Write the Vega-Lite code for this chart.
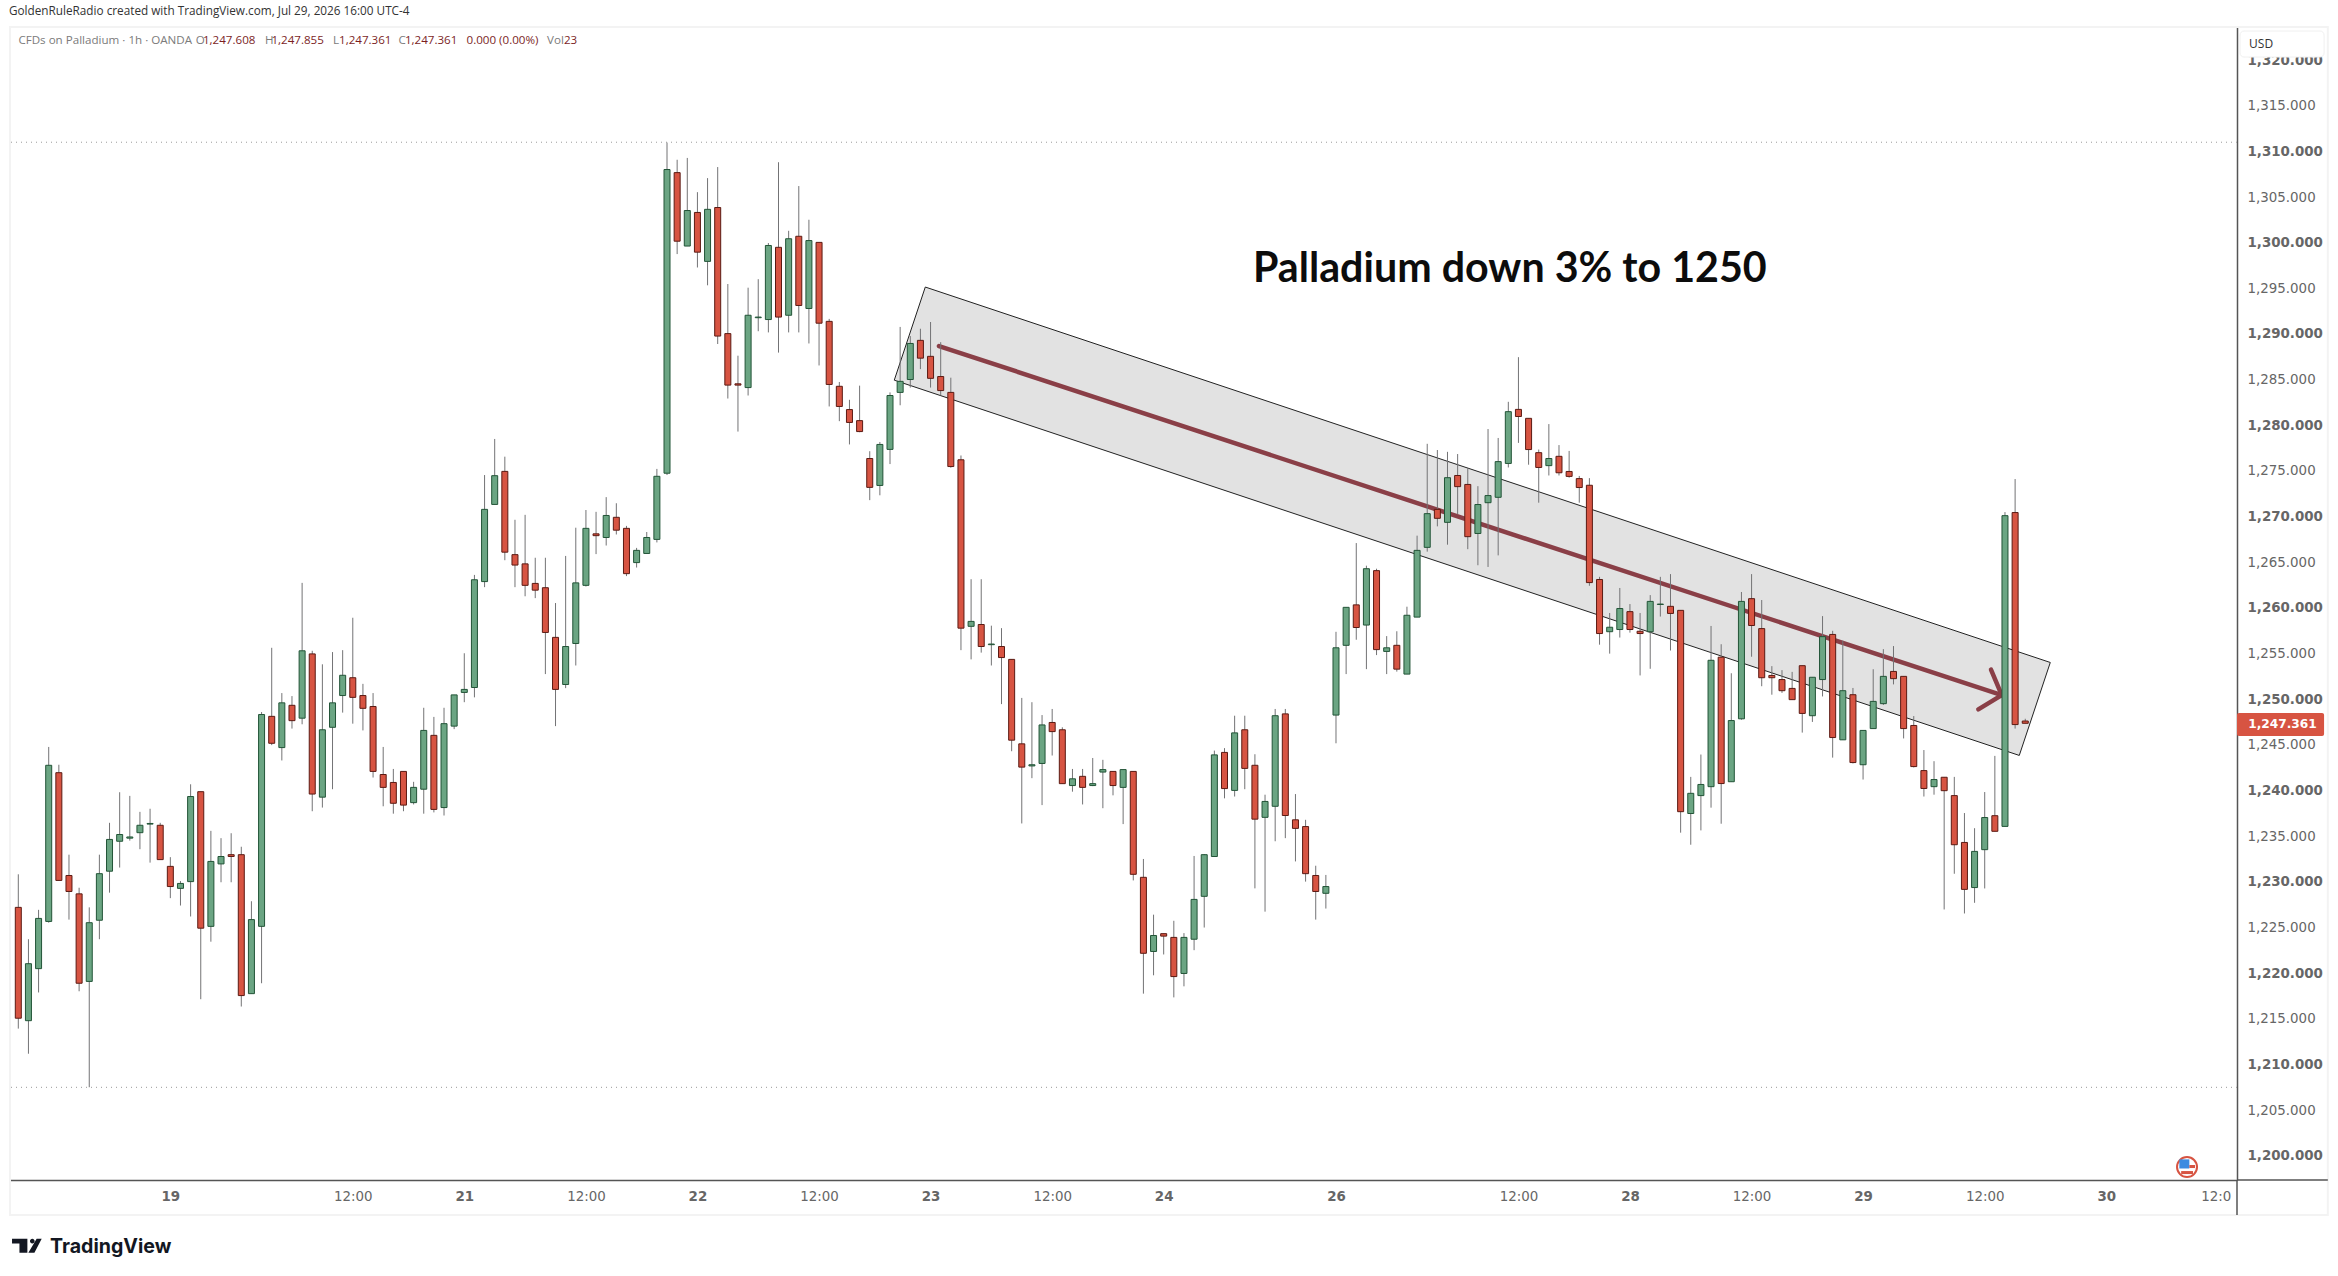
{
"$schema":"https://vega.github.io/schema/vega-lite/v6.json",
"width":2227,"height":1153,
"autosize":"none",
"padding":{"left":10,"top":27,"right":101,"bottom":96},
"background":"#ffffff",
"config":{"view":{"stroke":null},"axis":{"grid":false,"ticks":false,"labelOverlap":false,"labelBound":false,"labelFlush":false}},
"title":{"text":"GoldenRuleRadio created with TradingView.com, Jul 29, 2026 16:00 UTC-4","anchor":"start","frame":"group","font":"Open Sans","fontSize":11.75,"fontWeight":"normal","color":"#333333","dx":-1,"offset":8},
"datasets":{
"candles":[
{"i":1,"open":1227.20,"high":1230.82,"low":1213.92,"close":1215.06},
{"i":2,"open":1214.79,"high":1223.71,"low":1211.17,"close":1221.03},
{"i":3,"open":1220.49,"high":1226.93,"low":1217.88,"close":1225.99},
{"i":4,"open":1225.66,"high":1244.77,"low":1225.52,"close":1242.76},
{"i":5,"open":1241.95,"high":1242.82,"low":1230.15,"close":1230.15},
{"i":6,"open":1230.69,"high":1232.97,"low":1225.86,"close":1228.94},
{"i":7,"open":1228.68,"high":1229.35,"low":1218.01,"close":1218.89},
{"i":8,"open":1219.09,"high":1227.20,"low":1207.50,"close":1225.52},
{"i":9,"open":1225.79,"high":1232.97,"low":1223.71,"close":1230.89},
{"i":10,"open":1231.16,"high":1236.46,"low":1228.81,"close":1234.64},
{"i":11,"open":1234.44,"high":1239.81,"low":1231.56,"close":1235.18},
{"i":12,"open":1234.78,"high":1239.41,"low":1234.51,"close":1234.91},
{"i":13,"open":1235.38,"high":1237.66,"low":1233.57,"close":1236.19},
{"i":14,"open":1236.32,"high":1238.00,"low":1232.10,"close":1236.39},
{"i":15,"open":1236.19,"high":1236.46,"low":1232.43,"close":1232.43},
{"i":16,"open":1231.69,"high":1232.70,"low":1228.21,"close":1229.48},
{"i":17,"open":1229.28,"high":1230.08,"low":1227.40,"close":1229.82},
{"i":18,"open":1230.02,"high":1240.68,"low":1226.20,"close":1239.34},
{"i":19,"open":1239.87,"high":1239.87,"low":1217.14,"close":1224.92},
{"i":20,"open":1225.12,"high":1235.58,"low":1223.44,"close":1232.23},
{"i":21,"open":1231.96,"high":1234.78,"low":1229.95,"close":1232.77},
{"i":22,"open":1232.97,"high":1235.32,"low":1229.95,"close":1232.77},
{"i":23,"open":1232.97,"high":1233.84,"low":1216.34,"close":1217.54},
{"i":24,"open":1217.75,"high":1227.87,"low":1217.75,"close":1225.86},
{"i":25,"open":1225.12,"high":1248.59,"low":1218.89,"close":1248.32},
{"i":26,"open":1248.12,"high":1255.63,"low":1244.97,"close":1245.17},
{"i":27,"open":1244.70,"high":1250.67,"low":1243.29,"close":1249.60},
{"i":28,"open":1249.33,"high":1250.34,"low":1246.78,"close":1247.65},
{"i":29,"open":1247.92,"high":1262.74,"low":1247.25,"close":1255.30},
{"i":30,"open":1254.96,"high":1255.30,"low":1237.73,"close":1239.61},
{"i":31,"open":1239.27,"high":1253.82,"low":1238.13,"close":1246.65},
{"i":32,"open":1246.92,"high":1255.16,"low":1240.14,"close":1249.60},
{"i":33,"open":1250.40,"high":1255.37,"low":1248.53,"close":1252.62},
{"i":34,"open":1252.35,"high":1258.92,"low":1247.32,"close":1250.20},
{"i":35,"open":1250.40,"high":1251.68,"low":1246.58,"close":1249.00},
{"i":36,"open":1249.20,"high":1250.67,"low":1241.42,"close":1242.09},
{"i":37,"open":1241.75,"high":1244.77,"low":1238.27,"close":1240.34},
{"i":38,"open":1240.88,"high":1242.36,"low":1237.46,"close":1238.60},
{"i":39,"open":1242.09,"high":1242.09,"low":1237.73,"close":1238.40},
{"i":40,"open":1238.67,"high":1240.95,"low":1238.47,"close":1240.34},
{"i":41,"open":1240.14,"high":1249.06,"low":1237.46,"close":1246.58},
{"i":42,"open":1246.04,"high":1248.06,"low":1237.60,"close":1237.93},
{"i":43,"open":1238.13,"high":1249.06,"low":1237.26,"close":1247.32},
{"i":44,"open":1247.05,"high":1250.47,"low":1246.72,"close":1250.47},
{"i":45,"open":1250.74,"high":1255.03,"low":1249.67,"close":1251.07},
{"i":46,"open":1251.28,"high":1263.61,"low":1250.20,"close":1263.08},
{"i":47,"open":1262.88,"high":1274.55,"low":1262.27,"close":1270.79},
{"i":48,"open":1271.33,"high":1278.50,"low":1271.33,"close":1274.48},
{"i":49,"open":1274.95,"high":1276.56,"low":1265.22,"close":1266.10},
{"i":50,"open":1265.83,"high":1269.65,"low":1262.27,"close":1264.69},
{"i":51,"open":1264.82,"high":1270.19,"low":1261.27,"close":1262.47},
{"i":52,"open":1262.68,"high":1265.49,"low":1261.07,"close":1261.94},
{"i":53,"open":1262.21,"high":1265.49,"low":1252.75,"close":1257.31},
{"i":54,"open":1256.77,"high":1260.53,"low":1247.05,"close":1251.07},
{"i":55,"open":1251.61,"high":1265.69,"low":1251.21,"close":1255.77},
{"i":56,"open":1256.10,"high":1268.78,"low":1253.69,"close":1262.74},
{"i":57,"open":1262.47,"high":1270.72,"low":1262.34,"close":1268.71},
{"i":58,"open":1268.11,"high":1270.52,"low":1265.89,"close":1267.91},
{"i":59,"open":1267.71,"high":1272.13,"low":1266.83,"close":1270.12},
{"i":60,"open":1269.92,"high":1271.46,"low":1268.04,"close":1268.51},
{"i":61,"open":1268.71,"high":1268.98,"low":1263.48,"close":1263.75},
{"i":62,"open":1264.96,"high":1266.57,"low":1264.42,"close":1266.30},
{"i":63,"open":1265.96,"high":1268.31,"low":1265.96,"close":1267.71},
{"i":64,"open":1267.50,"high":1275.22,"low":1267.17,"close":1274.41},
{"i":65,"open":1274.75,"high":1310.96,"low":1274.55,"close":1308.01},
{"i":66,"open":1307.67,"high":1309.08,"low":1298.75,"close":1300.16},
{"i":67,"open":1299.63,"high":1309.28,"low":1299.63,"close":1303.52},
{"i":68,"open":1303.31,"high":1305.53,"low":1297.28,"close":1298.96},
{"i":69,"open":1297.95,"high":1307.07,"low":1295.33,"close":1303.65},
{"i":70,"open":1303.85,"high":1308.28,"low":1288.90,"close":1289.77},
{"i":71,"open":1290.04,"high":1295.47,"low":1282.93,"close":1284.40},
{"i":72,"open":1284.54,"high":1287.62,"low":1279.31,"close":1284.40},
{"i":73,"open":1284.13,"high":1295.07,"low":1283.26,"close":1292.05},
{"i":74,"open":1291.78,"high":1296.00,"low":1290.30,"close":1291.85},
{"i":75,"open":1291.58,"high":1299.96,"low":1290.17,"close":1299.69},
{"i":76,"open":1299.49,"high":1308.81,"low":1287.96,"close":1291.85},
{"i":77,"open":1292.05,"high":1301.30,"low":1290.17,"close":1300.43},
{"i":78,"open":1300.70,"high":1306.20,"low":1290.17,"close":1293.12},
{"i":79,"open":1292.79,"high":1302.51,"low":1288.96,"close":1300.23},
{"i":80,"open":1300.03,"high":1300.03,"low":1286.55,"close":1291.18},
{"i":81,"open":1291.38,"high":1291.65,"low":1282.06,"close":1284.47},
{"i":82,"open":1284.27,"high":1284.74,"low":1280.45,"close":1282.06},
{"i":83,"open":1281.72,"high":1282.79,"low":1277.90,"close":1280.31},
{"i":84,"open":1280.51,"high":1284.34,"low":1279.24,"close":1279.31},
{"i":85,"open":1276.36,"high":1277.16,"low":1271.80,"close":1273.20},
{"i":86,"open":1273.41,"high":1278.17,"low":1272.33,"close":1277.90},
{"i":87,"open":1277.36,"high":1283.60,"low":1275.75,"close":1283.26},
{"i":88,"open":1283.60,"high":1290.77,"low":1282.19,"close":1284.81},
{"i":89,"open":1285.01,"high":1289.77,"low":1284.13,"close":1288.96},
{"i":90,"open":1289.30,"high":1290.57,"low":1286.15,"close":1287.35},
{"i":91,"open":1287.55,"high":1291.31,"low":1284.13,"close":1285.14},
{"i":92,"open":1285.34,"high":1289.10,"low":1283.26,"close":1283.80},
{"i":93,"open":1283.60,"high":1285.21,"low":1275.35,"close":1275.48},
{"i":94,"open":1276.22,"high":1276.69,"low":1255.37,"close":1257.78},
{"i":95,"open":1257.98,"high":1263.14,"low":1254.36,"close":1258.52},
{"i":96,"open":1258.18,"high":1263.14,"low":1255.10,"close":1255.77},
{"i":97,"open":1255.97,"high":1258.05,"low":1253.69,"close":1256.04},
{"i":98,"open":1255.77,"high":1257.78,"low":1249.46,"close":1254.56},
{"i":99,"open":1254.36,"high":1254.36,"low":1244.30,"close":1245.51},
{"i":100,"open":1245.11,"high":1250.14,"low":1236.39,"close":1242.56},
{"i":101,"open":1242.69,"high":1249.67,"low":1241.35,"close":1242.82},
{"i":102,"open":1242.96,"high":1248.26,"low":1238.40,"close":1247.18},
{"i":103,"open":1247.45,"high":1248.93,"low":1243.83,"close":1246.45},
{"i":104,"open":1246.65,"high":1246.92,"low":1240.75,"close":1240.75},
{"i":105,"open":1240.54,"high":1242.36,"low":1239.87,"close":1241.28},
{"i":106,"open":1241.55,"high":1242.36,"low":1238.47,"close":1240.34},
{"i":107,"open":1240.54,"high":1243.56,"low":1240.48,"close":1240.75},
{"i":108,"open":1242.02,"high":1243.36,"low":1238.06,"close":1242.29},
{"i":109,"open":1242.09,"high":1242.09,"low":1239.47,"close":1240.54},
{"i":110,"open":1240.34,"high":1242.29,"low":1236.32,"close":1242.29},
{"i":111,"open":1242.09,"high":1242.09,"low":1230.15,"close":1230.82},
{"i":112,"open":1230.49,"high":1232.50,"low":1217.75,"close":1222.17},
{"i":113,"open":1222.37,"high":1226.40,"low":1219.76,"close":1224.12},
{"i":114,"open":1224.32,"high":1224.32,"low":1222.04,"close":1224.05},
{"i":115,"open":1223.91,"high":1225.73,"low":1217.34,"close":1219.62},
{"i":116,"open":1219.96,"high":1224.38,"low":1218.55,"close":1223.91},
{"i":117,"open":1223.71,"high":1232.83,"low":1222.51,"close":1228.07},
{"i":118,"open":1228.41,"high":1233.04,"low":1224.99,"close":1232.97},
{"i":119,"open":1232.77,"high":1244.37,"low":1232.77,"close":1243.90},
{"i":120,"open":1244.17,"high":1244.64,"low":1239.14,"close":1240.21},
{"i":121,"open":1240.01,"high":1248.19,"low":1239.34,"close":1246.31},
{"i":122,"open":1246.65,"high":1248.19,"low":1240.14,"close":1242.42},
{"i":123,"open":1242.76,"high":1243.97,"low":1229.28,"close":1236.86},
{"i":124,"open":1237.06,"high":1239.54,"low":1226.73,"close":1238.80},
{"i":125,"open":1238.27,"high":1248.93,"low":1234.44,"close":1248.19},
{"i":126,"open":1248.39,"high":1248.93,"low":1234.78,"close":1237.26},
{"i":127,"open":1236.79,"high":1239.61,"low":1232.23,"close":1235.85},
{"i":128,"open":1236.05,"high":1236.79,"low":1230.02,"close":1230.89},
{"i":129,"open":1230.69,"high":1231.76,"low":1225.86,"close":1228.94},
{"i":130,"open":1228.74,"high":1230.75,"low":1227.07,"close":1229.48},
{"i":131,"open":1248.26,"high":1257.38,"low":1245.17,"close":1255.63},
{"i":132,"open":1255.90,"high":1260.06,"low":1252.75,"close":1260.06},
{"i":133,"open":1260.33,"high":1267.10,"low":1256.51,"close":1257.85},
{"i":134,"open":1258.12,"high":1264.62,"low":1253.29,"close":1264.29},
{"i":135,"open":1264.08,"high":1264.29,"low":1254.83,"close":1255.43},
{"i":136,"open":1255.23,"high":1256.91,"low":1252.75,"close":1255.63},
{"i":137,"open":1255.90,"high":1257.44,"low":1253.02,"close":1253.29},
{"i":138,"open":1252.75,"high":1260.13,"low":1252.75,"close":1259.19},
{"i":139,"open":1258.99,"high":1267.91,"low":1258.99,"close":1266.30},
{"i":140,"open":1266.63,"high":1277.97,"low":1266.16,"close":1270.32},
{"i":141,"open":1270.79,"high":1277.29,"low":1268.93,"close":1269.81},
{"i":142,"open":1269.37,"high":1277.09,"low":1266.92,"close":1274.26},
{"i":143,"open":1274.50,"high":1276.85,"low":1270.25,"close":1273.28},
{"i":144,"open":1273.52,"high":1275.33,"low":1266.43,"close":1267.80},
{"i":145,"open":1268.15,"high":1273.33,"low":1264.67,"close":1271.32},
{"i":146,"open":1271.52,"high":1279.59,"low":1264.48,"close":1272.30},
{"i":147,"open":1272.11,"high":1278.61,"low":1265.75,"close":1276.02},
{"i":148,"open":1275.82,"high":1282.57,"low":1275.38,"close":1281.49},
{"i":149,"open":1281.74,"high":1287.46,"low":1278.07,"close":1280.96},
{"i":150,"open":1280.76,"high":1280.76,"low":1275.68,"close":1277.34},
{"i":151,"open":1277.00,"high":1277.34,"low":1271.52,"close":1275.38},
{"i":152,"open":1275.58,"high":1280.13,"low":1274.50,"close":1276.36},
{"i":153,"open":1276.60,"high":1277.83,"low":1274.50,"close":1274.80},
{"i":154,"open":1274.94,"high":1277.19,"low":1274.26,"close":1274.40},
{"i":155,"open":1274.16,"high":1274.45,"low":1271.52,"close":1273.18},
{"i":156,"open":1273.43,"high":1274.21,"low":1262.42,"close":1262.77},
{"i":157,"open":1263.11,"high":1263.40,"low":1255.97,"close":1257.19},
{"i":158,"open":1257.39,"high":1259.44,"low":1254.99,"close":1257.88},
{"i":159,"open":1257.63,"high":1262.18,"low":1256.75,"close":1259.93},
{"i":160,"open":1259.59,"high":1260.42,"low":1257.29,"close":1257.63},
{"i":161,"open":1257.44,"high":1259.44,"low":1252.60,"close":1257.19},
{"i":162,"open":1257.39,"high":1261.40,"low":1253.33,"close":1260.71},
{"i":163,"open":1260.37,"high":1263.40,"low":1259.05,"close":1260.42},
{"i":164,"open":1260.17,"high":1263.70,"low":1255.33,"close":1259.39},
{"i":165,"open":1259.73,"high":1259.73,"low":1235.38,"close":1237.68},
{"i":166,"open":1237.48,"high":1241.49,"low":1234.06,"close":1239.69},
{"i":167,"open":1239.44,"high":1243.94,"low":1235.63,"close":1240.66},
{"i":168,"open":1240.42,"high":1258.02,"low":1238.12,"close":1254.26},
{"i":169,"open":1254.60,"high":1256.02,"low":1236.36,"close":1240.76},
{"i":170,"open":1240.96,"high":1252.84,"low":1240.96,"close":1247.66},
{"i":171,"open":1247.85,"high":1261.74,"low":1247.75,"close":1260.71},
{"i":172,"open":1261.01,"high":1263.70,"low":1254.65,"close":1258.07},
{"i":173,"open":1257.73,"high":1260.86,"low":1251.42,"close":1252.35},
{"i":174,"open":1252.60,"high":1253.62,"low":1250.49,"close":1252.35},
{"i":175,"open":1252.15,"high":1253.18,"low":1250.69,"close":1250.93},
{"i":176,"open":1251.18,"high":1252.99,"low":1249.95,"close":1249.95},
{"i":177,"open":1253.67,"high":1253.67,"low":1246.34,"close":1248.44},
{"i":178,"open":1248.19,"high":1252.40,"low":1247.51,"close":1252.40},
{"i":179,"open":1252.15,"high":1259.10,"low":1250.30,"close":1256.85},
{"i":180,"open":1257.09,"high":1257.49,"low":1243.60,"close":1245.80},
{"i":181,"open":1245.55,"high":1256.41,"low":1245.55,"close":1250.93},
{"i":182,"open":1250.49,"high":1251.23,"low":1242.96,"close":1243.06},
{"i":183,"open":1242.82,"high":1246.58,"low":1241.20,"close":1246.58},
{"i":184,"open":1246.78,"high":1253.28,"low":1246.78,"close":1249.76},
{"i":185,"open":1249.51,"high":1255.48,"low":1249.37,"close":1252.50},
{"i":186,"open":1253.04,"high":1255.82,"low":1251.62,"close":1252.25},
{"i":187,"open":1252.50,"high":1252.50,"low":1245.70,"close":1246.78},
{"i":188,"open":1247.12,"high":1248.15,"low":1242.52,"close":1242.62},
{"i":189,"open":1242.18,"high":1244.43,"low":1239.34,"close":1240.22},
{"i":190,"open":1240.42,"high":1243.21,"low":1239.54,"close":1241.20},
{"i":191,"open":1241.45,"high":1241.45,"low":1226.97,"close":1239.98},
{"i":192,"open":1239.44,"high":1241.49,"low":1230.88,"close":1234.06},
{"i":193,"open":1234.31,"high":1237.53,"low":1226.53,"close":1229.17},
{"i":194,"open":1229.37,"high":1235.87,"low":1227.70,"close":1233.33},
{"i":195,"open":1233.52,"high":1239.83,"low":1229.27,"close":1237.04},
{"i":196,"open":1237.24,"high":1243.79,"low":1235.53,"close":1235.53},
{"i":197,"open":1236.07,"high":1270.49,"low":1236.07,"close":1270.10},
{"i":198,"open":1270.44,"high":1274.11,"low":1246.78,"close":1247.22},
{"i":199,"open":1247.608,"high":1247.855,"low":1247.361,"close":1247.361}
],
"channelArea":[{"i":87.42,"top":1284.94,"bottom":1284.94},{"i":90.48,"top":1295.14,"bottom":1283.81},{"i":198.41,"top":1255.15,"bottom":1243.84},{"i":201.47,"top":1254.02,"bottom":1254.02}],
"channelEdge":[{"i":90.48,"p":1295.14,"n":1},{"i":201.47,"p":1254.02,"n":2},{"i":198.41,"p":1243.84,"n":3},{"i":87.42,"p":1284.94,"n":4},{"i":90.48,"p":1295.14,"n":5}],
"arrow":[{"i":91.83,"p":1288.68,"part":"shaft","n":1},{"i":196.68,"p":1250.45,"part":"shaft","n":2},{"i":195.62,"p":1253.24,"part":"head","n":1},{"i":196.68,"p":1250.45,"part":"head","n":2},{"i":194.37,"p":1248.88,"part":"head","n":3}],
"legendRow":[
{"i":1.01,"p":1322.09,"kind":"name","text":"CFDs on Palladium · 1h · OANDA"},
{"i":18.5,"p":1322.09,"kind":"name","text":"O"},{"i":19.22,"p":1322.09,"kind":"value","text":"1,247.608"},
{"i":25.35,"p":1322.09,"kind":"name","text":"H"},{"i":25.97,"p":1322.09,"kind":"value","text":"1,247.855"},
{"i":32.05,"p":1322.09,"kind":"name","text":"L"},{"i":32.64,"p":1322.09,"kind":"value","text":"1,247.361"},
{"i":38.5,"p":1322.09,"kind":"name","text":"C"},{"i":39.14,"p":1322.09,"kind":"value","text":"1,247.361"},
{"i":45.22,"p":1322.09,"kind":"value","text":"0.000 (0.00%)"},
{"i":53.16,"p":1322.09,"kind":"name","text":"Vol"},{"i":54.83,"p":1322.09,"kind":"value","text":"23"}
]
},
"data":{"name":"candles"},
"layer":[
{"data":{"values":[{"i":0.181,"i2":228.85,"p":1323.62,"p2":1193.5}]},
 "mark":{"type":"rect","fillOpacity":0,"stroke":"#f3f3f3","strokeWidth":2},
 "encoding":{
  "x":{"field":"i","type":"quantitative","scale":{"domain":[0.181,219.89],"nice":false,"zero":false,"padding":0},
   "axis":{"title":null,"orient":"bottom","values":[16,34,45,57,68,80,91,103,114,131,149,160,172,183,195,207,217.8],
    "labelExpr":"{'16':'19','34':'12:00','45':'21','57':'12:00','68':'22','80':'12:00','91':'23','103':'12:00','114':'24','131':'26','149':'12:00','160':'28','172':'12:00','183':'29','195':'12:00','207':'30','217.8':'12:0'}[datum.value]",
    "labelFont":"DejaVu Sans","labelFontSize":13.4,"labelPadding":9,"labelAngle":0,
    "labelFontWeight":{"condition":{"test":"indexof([16,45,68,91,114,131,160,183,207],datum.value)>=0","value":"bold"},"value":"normal"},
    "labelColor":"#666666","domainColor":"#555555","domainWidth":1.5}},
  "x2":{"field":"i2"},
  "y":{"field":"p","type":"quantitative","scale":{"domain":[1197.34,1323.62],"nice":false,"zero":false},
   "axis":{"title":null,"orient":"right","values":[1200,1205,1210,1215,1220,1225,1230,1235,1240,1245,1250,1255,1260,1265,1270,1275,1280,1285,1290,1295,1300,1305,1310,1315,1320],
    "format":",.3f","labelFont":"DejaVu Sans","labelFontSize":13.4,"labelPadding":10,"labelAlign":"left",
    "labelFontWeight":{"condition":{"test":"datum.value%10===0","value":"bold"},"value":"normal"},
    "labelColor":"#666666","domainColor":"#555555","domainWidth":1.5}},
  "y2":{"field":"p2"}
 }},
{"data":{"name":"channelArea"},
 "mark":{"type":"area","fill":"#e2e2e2","opacity":1},
 "encoding":{
  "x":{"field":"i","type":"quantitative","scale":{"domain":[0.181,219.89],"nice":false,"zero":false,"padding":0},"axis":{"title":null}},
  "y":{"field":"top","type":"quantitative","scale":{"domain":[1197.34,1323.62],"nice":false,"zero":false},"axis":{"title":null}},
  "y2":{"field":"bottom"}
 }},
{"data":{"name":"channelEdge"},
 "mark":{"type":"line","stroke":"#222222","strokeWidth":1},
 "encoding":{
  "x":{"field":"i","type":"quantitative","scale":{"domain":[0.181,219.89],"nice":false,"zero":false,"padding":0},"axis":{"title":null}},
  "y":{"field":"p","type":"quantitative","scale":{"domain":[1197.34,1323.62],"nice":false,"zero":false},"axis":{"title":null}},
  "order":{"field":"n","type":"quantitative"}
 }},
{"data":{"values":[{"p":1311.0},{"p":1207.49}]},
 "mark":{"type":"rule","stroke":"#9a9a9a","strokeWidth":1,"strokeDash":[1,4]},
 "encoding":{
  "y":{"field":"p","type":"quantitative","scale":{"domain":[1197.34,1323.62],"nice":false,"zero":false},"axis":{"title":null}}
 }},
{"data":{"name":"arrow"},
 "mark":{"type":"line","stroke":"#8a3f47","strokeWidth":4.5,"strokeCap":"round","strokeJoin":"round"},
 "encoding":{
  "x":{"field":"i","type":"quantitative","scale":{"domain":[0.181,219.89],"nice":false,"zero":false,"padding":0},"axis":{"title":null}},
  "y":{"field":"p","type":"quantitative","scale":{"domain":[1197.34,1323.62],"nice":false,"zero":false},"axis":{"title":null}},
  "detail":{"field":"part","type":"nominal"},
  "order":{"field":"n","type":"quantitative"}
 }},
{"mark":{"type":"rule","stroke":"#737375","strokeWidth":1},
 "encoding":{
  "x":{"field":"i","type":"quantitative","scale":{"domain":[0.181,219.89],"nice":false,"zero":false,"padding":0},"axis":{"title":null}},
  "y":{"field":"high","type":"quantitative","scale":{"domain":[1197.34,1323.62],"nice":false,"zero":false},"axis":{"title":null}},
  "y2":{"field":"low"}
 }},
{"mark":{"type":"bar","size":6,"strokeWidth":1},
 "encoding":{
  "x":{"field":"i","type":"quantitative","scale":{"domain":[0.181,219.89],"nice":false,"zero":false,"padding":0},"axis":{"title":null}},
  "y":{"field":"open","type":"quantitative","scale":{"domain":[1197.34,1323.62],"nice":false,"zero":false},"axis":{"title":null}},
  "y2":{"field":"close"},
  "fill":{"condition":{"test":"datum.close>=datum.open","value":"#6ba583"},"value":"#d75442"},
  "stroke":{"condition":{"test":"datum.close>=datum.open","value":"#225437"},"value":"#5b1a13"}
 }},
{"data":{"values":[{"i":219.89,"p":1197.34,"p2":1193.5}]},
 "mark":{"type":"rule","stroke":"#555555","strokeWidth":1.5},
 "encoding":{
  "x":{"field":"i","type":"quantitative","scale":{"domain":[0.181,219.89],"nice":false,"zero":false,"padding":0},"axis":{"title":null}},
  "y":{"field":"p","type":"quantitative","scale":{"domain":[1197.34,1323.62],"nice":false,"zero":false},"axis":{"title":null}},
  "y2":{"field":"p2"}
 }},
{"data":{"values":[{"i":219.89,"i2":228.85,"p":1197.34}]},
 "mark":{"type":"rule","stroke":"#555555","strokeWidth":1.5},
 "encoding":{
  "x":{"field":"i","type":"quantitative","scale":{"domain":[0.181,219.89],"nice":false,"zero":false,"padding":0},"axis":{"title":null}},
  "x2":{"field":"i2"},
  "y":{"field":"p","type":"quantitative","scale":{"domain":[1197.34,1323.62],"nice":false,"zero":false},"axis":{"title":null}}
 }},
{"data":{"values":[{"i":220.19,"i2":228.48,"p":1323.18,"p2":1320.33}]},
 "mark":{"type":"rect","fill":"#ffffff","stroke":"#f0f0f0","strokeWidth":1,"cornerRadius":4},
 "encoding":{
  "x":{"field":"i","type":"quantitative","scale":{"domain":[0.181,219.89],"nice":false,"zero":false,"padding":0},"axis":{"title":null}},
  "x2":{"field":"i2"},
  "y":{"field":"p","type":"quantitative","scale":{"domain":[1197.34,1323.62],"nice":false,"zero":false},"axis":{"title":null}},
  "y2":{"field":"p2"}
 }},
{"data":{"values":[{"i":219.89,"i2":228.48,"p":1248.49,"p2":1245.97}]},
 "mark":{"type":"rect","fill":"#d75442","cornerRadius":2},
 "encoding":{
  "x":{"field":"i","type":"quantitative","scale":{"domain":[0.181,219.89],"nice":false,"zero":false,"padding":0},"axis":{"title":null}},
  "x2":{"field":"i2"},
  "y":{"field":"p","type":"quantitative","scale":{"domain":[1197.34,1323.62],"nice":false,"zero":false},"axis":{"title":null}},
  "y2":{"field":"p2"}
 }},
{"data":{"values":[{"i":214.96,"p":1198.76}]},
 "mark":{"type":"point","shape":"circle","filled":true,"fill":"#ffffff","stroke":"#d75442","strokeWidth":2,"size":400,"opacity":1},
 "encoding":{
  "x":{"field":"i","type":"quantitative","scale":{"domain":[0.181,219.89],"nice":false,"zero":false,"padding":0},"axis":{"title":null}},
  "y":{"field":"p","type":"quantitative","scale":{"domain":[1197.34,1323.62],"nice":false,"zero":false},"axis":{"title":null}}
 }},
{"data":{"values":[{"i":214.2,"i2":215.19,"p":1199.6,"p2":1198.6,"part":"blue"},{"i":215.19,"i2":215.75,"p":1198.98,"p2":1198.65,"part":"red"},{"i":214.38,"i2":215.55,"p":1198.32,"p2":1197.99,"part":"red"}]},
 "mark":{"type":"rect"},
 "encoding":{
  "x":{"field":"i","type":"quantitative","scale":{"domain":[0.181,219.89],"nice":false,"zero":false,"padding":0},"axis":{"title":null}},
  "x2":{"field":"i2"},
  "y":{"field":"p","type":"quantitative","scale":{"domain":[1197.34,1323.62],"nice":false,"zero":false},"axis":{"title":null}},
  "y2":{"field":"p2"},
  "color":{"field":"part","type":"nominal","scale":{"domain":["blue","red"],"range":["#3d8be0","#d75442"]},"legend":null}
 }},
{"data":{"name":"legendRow"},
 "mark":{"type":"text","align":"left","baseline":"middle","font":"Open Sans","fontSize":11.6},
 "encoding":{
  "x":{"field":"i","type":"quantitative","scale":{"domain":[0.181,219.89],"nice":false,"zero":false,"padding":0},"axis":{"title":null}},
  "y":{"field":"p","type":"quantitative","scale":{"domain":[1197.34,1323.62],"nice":false,"zero":false},"axis":{"title":null}},
  "text":{"field":"text"},
  "fill":{"field":"kind","type":"nominal","scale":{"domain":["name","value"],"range":["#7b7b7b","#7c1f1f"]},"legend":null}
 }},
{"data":{"values":[{"i":122.81,"p":1295.64,"text":"Palladium down 3% to 1250"}]},
 "mark":{"type":"text","align":"left","baseline":"alphabetic","font":"Lato","fontSize":41.2,"fontWeight":"bold","fill":"#0c0c0c"},
 "encoding":{
  "x":{"field":"i","type":"quantitative","scale":{"domain":[0.181,219.89],"nice":false,"zero":false,"padding":0},"axis":{"title":null}},
  "y":{"field":"p","type":"quantitative","scale":{"domain":[1197.34,1323.62],"nice":false,"zero":false},"axis":{"title":null}},
  "text":{"field":"text"}
 }},
{"data":{"values":[{"i":221.08,"p":1321.73,"text":"USD"}]},
 "mark":{"type":"text","align":"left","baseline":"middle","font":"Open Sans","fontSize":12,"fill":"#333333"},
 "encoding":{
  "x":{"field":"i","type":"quantitative","scale":{"domain":[0.181,219.89],"nice":false,"zero":false,"padding":0},"axis":{"title":null}},
  "y":{"field":"p","type":"quantitative","scale":{"domain":[1197.34,1323.62],"nice":false,"zero":false},"axis":{"title":null}},
  "text":{"field":"text"}
 }},
{"data":{"values":[{"i":220.99,"p":1247.23,"text":"1,247.361"}]},
 "mark":{"type":"text","align":"left","baseline":"middle","font":"DejaVu Sans","fontSize":12.2,"fontWeight":"bold","fill":"#ffffff"},
 "encoding":{
  "x":{"field":"i","type":"quantitative","scale":{"domain":[0.181,219.89],"nice":false,"zero":false,"padding":0},"axis":{"title":null}},
  "y":{"field":"p","type":"quantitative","scale":{"domain":[1197.34,1323.62],"nice":false,"zero":false},"axis":{"title":null}},
  "text":{"field":"text"}
 }},
{"data":{"values":[{"i":4.13,"p":1189.38,"text":"TradingView"}]},
 "mark":{"type":"text","align":"left","baseline":"alphabetic","font":"Inter","fontSize":19.6,"fontWeight":"bold","fill":"#131722"},
 "encoding":{
  "x":{"field":"i","type":"quantitative","scale":{"domain":[0.181,219.89],"nice":false,"zero":false,"padding":0},"axis":{"title":null}},
  "y":{"field":"p","type":"quantitative","scale":{"domain":[1197.34,1323.62],"nice":false,"zero":false},"axis":{"title":null}},
  "text":{"field":"text"}
 }},
{"data":{"values":[{"i":1.83,"p":1190.14}]},
 "mark":{"type":"point","filled":true,"fill":"#131722","stroke":null,"size":880,"opacity":1,
  "shape":"M-.99 -.47H.045V.47H-.49V-.157H-.99ZM.22 -.315a.157 .157 0 1 0 .314 0a.157 .157 0 1 0 -.314 0ZM.67 -.47L1.01 -.47L.52 .47L.11 .47Z"},
 "encoding":{
  "x":{"field":"i","type":"quantitative","scale":{"domain":[0.181,219.89],"nice":false,"zero":false,"padding":0},"axis":{"title":null}},
  "y":{"field":"p","type":"quantitative","scale":{"domain":[1197.34,1323.62],"nice":false,"zero":false},"axis":{"title":null}}
 }}
]
}
